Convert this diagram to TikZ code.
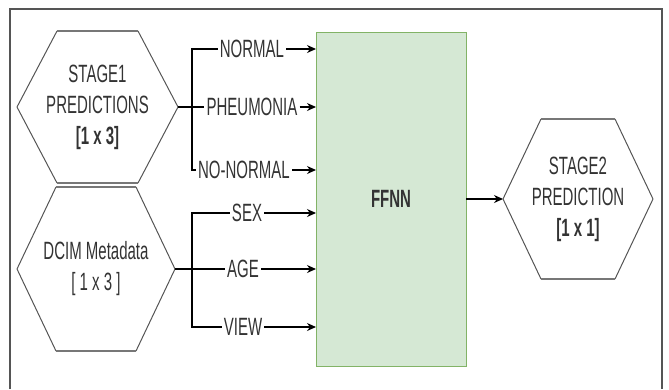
\documentclass[tikz,border=0pt]{standalone}
\usepackage{fontspec}
\setmainfont{Liberation Sans}[FakeStretch=0.6]
\usepackage{tikz}
\usepackage{xcolor}
\usetikzlibrary{arrows.meta, positioning}

\definecolor{inkgray}{HTML}{333333}
\definecolor{edgegray}{HTML}{555555}
\definecolor{capgray}{HTML}{777777}
\definecolor{nnfill}{HTML}{D5E8D4}
\definecolor{nnline}{HTML}{82B366}

\tikzset{
    hexbody/.style={inner sep=0pt, outer sep=0pt, align=center, text=inkgray,
        font=\fontsize{25}{31}\selectfont},
    branchlabel/.style={inner sep=2pt, text=inkgray, font=\fontsize{25}{31}\selectfont},
    feed/.style={-{Stealth[length=9pt, width=8pt]}, line width=1.4pt},
    wire/.style={line width=1.4pt}
}

% hexagon round a node: #1 name, #2 inset of the slanted sides
\newcommand{\hexoutline}[2]{%
    \draw[edgegray, line width=1pt, line join=round]
        (#1.west) -- ([xshift=#2]#1.north west)
        ([xshift=-#2]#1.north east) -- (#1.east) -- ([xshift=-#2]#1.south east)
        ([xshift=#2]#1.south west) -- (#1.west);
    \draw[capgray, line width=2.6pt]
        ([xshift=#2]#1.north west) -- ([xshift=-#2]#1.north east)
        ([xshift=#2]#1.south west) -- ([xshift=-#2]#1.south east);
}

\begin{document}
\begin{tikzpicture}[x=1pt, y=-1pt]
        \useasboundingbox (0,0) rectangle (669,389);
        \draw[edgegray, line width=1.5pt] (10,389) -- (10,9) -- (662,9) -- (662,389);

        % inputs
        \node[hexbody, minimum width=161pt, minimum height=152pt] (stage1) at (97.5,107)
            {STAGE1\\PREDICTIONS\\\textbf{[1 x 3]}};
        \hexoutline{stage1}{40pt}
        \node[hexbody, minimum width=158pt, minimum height=164pt] (meta) at (96,269)
            {DCIM Metadata\\{}[ 1 x 3 ]};
        \hexoutline{meta}{39pt}

        % network
        \node[draw=nnline, fill=nnfill, line width=1pt, minimum width=150pt, minimum height=334pt,
            inner sep=0pt, outer sep=0pt, text=inkgray, font=\fontsize{25}{31}\selectfont\bfseries]
            (ffnn) at (391,199) {FFNN};

        % output
        \node[hexbody, minimum width=150pt, minimum height=160pt] (stage2) at (578,199)
            {STAGE2\\PREDICTION\\\textbf{[1 x 1]}};
        \hexoutline{stage2}{38pt}

        % branch labels
        \coordinate (j1) at (192,107);
        \coordinate (j2) at (192,269);
        \node[branchlabel] (normal) at (252,49) {NORMAL};
        \node[branchlabel] (pneu) at (252,107) {PHEUMONIA};
        \node[branchlabel] (nonorm) at (244,170) {NO-NORMAL};
        \node[branchlabel] (sex) at (247,213) {SEX};
        \node[branchlabel] (age) at (243,269) {AGE};
        \node[branchlabel] (view) at (243,327) {VIEW};

        \draw[wire] (stage1.east) -- (j1)
            (j1) |- (normal.west)
            (j1) -- (pneu.west)
            (j1) |- (nonorm.west);
        \draw[wire, line width=1.8pt] (meta.east) -- (j2)
            (j2) |- (sex.west)
            (j2) -- (age.west)
            (j2) |- (view.west);

        \foreach \lbl in {normal, pneu, nonorm, sex, age, view}
            \draw[feed] (\lbl.east) -- (\lbl.east -| ffnn.west);

        \draw[feed] (ffnn.east |- stage2.west) -- (stage2.west);
    \end{tikzpicture}
\end{document}
